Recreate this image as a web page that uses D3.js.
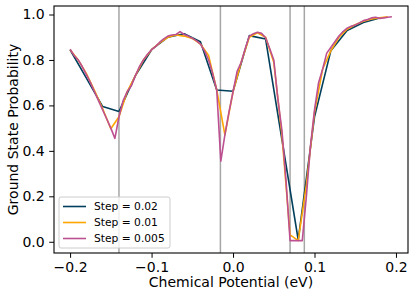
<!DOCTYPE html>
<html>
<head>
<meta charset="utf-8">
<script src="https://cdn.jsdelivr.net/npm/d3@7"></script>
<style>
  body { margin: 0; background: #fff; }
  svg { display: block; font-family: "DejaVu Sans", sans-serif; }
</style>
</head>
<body>
<svg id="chart" width="415" height="298"></svg>
<script>
// mu values for each step size
const x02 = [-0.2, -0.18, -0.16, -0.14, -0.12, -0.1, -0.08, -0.06, -0.04, -0.02,
    0.0, 0.02, 0.04, 0.06, 0.08, 0.1, 0.12, 0.14, 0.16, 0.18];
const y02 = [0.845, 0.72, 0.595, 0.573, 0.73, 0.845, 0.9, 0.915, 0.88, 0.668,
    0.662, 0.907, 0.892, 0.45, 0.008, 0.55, 0.84, 0.93, 0.965, 0.985];

const x01 = [-0.2, -0.19, -0.18, -0.17, -0.16, -0.15, -0.14, -0.13, -0.12, -0.11,
    -0.1, -0.09, -0.08, -0.07, -0.06, -0.05, -0.04, -0.03, -0.02, -0.01,
    0.0, 0.01, 0.02, 0.03, 0.04, 0.05, 0.06, 0.07, 0.08, 0.09,
    0.1, 0.11, 0.12, 0.13, 0.14, 0.15, 0.16, 0.17, 0.18, 0.19];
const y01 = [0.845, 0.8, 0.74, 0.665, 0.585, 0.497, 0.55, 0.66, 0.73, 0.8,
    0.845, 0.875, 0.9, 0.91, 0.905, 0.895, 0.87, 0.82, 0.668, 0.47,
    0.66, 0.79, 0.9, 0.92, 0.9, 0.79, 0.47, 0.03, 0.005, 0.25,
    0.57, 0.76, 0.84, 0.9, 0.935, 0.955, 0.97, 0.98, 0.985, 0.99];

const x005 = [-0.2, -0.195, -0.19, -0.185, -0.18, -0.175, -0.17, -0.165, -0.16, -0.155,
    -0.15, -0.145, -0.14, -0.135, -0.13, -0.125, -0.12, -0.115, -0.11, -0.105,
    -0.1, -0.095, -0.09, -0.085, -0.08, -0.075, -0.07, -0.065, -0.06, -0.055,
    -0.05, -0.045, -0.04, -0.035, -0.03, -0.025, -0.02, -0.015, -0.01, -0.005,
    0.0, 0.005, 0.01, 0.015, 0.02, 0.025, 0.03, 0.035, 0.04, 0.045,
    0.05, 0.055, 0.06, 0.065, 0.07, 0.075, 0.08, 0.085, 0.09, 0.095,
    0.1, 0.105, 0.11, 0.115, 0.12, 0.125, 0.13, 0.135, 0.14, 0.145,
    0.15, 0.155, 0.16, 0.165, 0.17, 0.175, 0.18, 0.185, 0.19, 0.195];
const y005 = [0.847, 0.82, 0.8, 0.77, 0.735, 0.7, 0.66, 0.62, 0.58, 0.54,
    0.5, 0.455, 0.55, 0.62, 0.66, 0.685, 0.73, 0.77, 0.8, 0.825,
    0.845, 0.86, 0.878, 0.893, 0.905, 0.91, 0.912, 0.925, 0.912, 0.905,
    0.895, 0.885, 0.87, 0.84, 0.8, 0.74, 0.668, 0.355, 0.47, 0.57,
    0.66, 0.75, 0.79, 0.85, 0.905, 0.915, 0.922, 0.917, 0.898, 0.85,
    0.8, 0.63, 0.49, 0.27, 0.005, 0.005, 0.005, 0.005, 0.2, 0.42,
    0.58, 0.7, 0.76, 0.83, 0.855, 0.88, 0.905, 0.925, 0.94, 0.948,
    0.954, 0.963, 0.973, 0.978, 0.985, 0.988, 0.983, 0.985, 0.988, 0.99];

const vlines = [-0.14, -0.0155, 0.07, 0.0875];
const labels = ["Step = 0.02", "Step = 0.01", "Step = 0.005"];
const colors = ["#003f5c", "#ffa600", "#bc5090"];
const xTicks = [-0.2, -0.1, 0.0, 0.1, 0.2];
const yTicks = [0.0, 0.2, 0.4, 0.6, 0.8, 1.0];

const svg = d3.select("#chart");
const margin = { top: 6, right: 7, bottom: 45, left: 54 };
const W = 415, H = 298;

const x = d3.scaleLinear()
    .domain([-0.21975, 0.21475])
    .range([margin.left, W - margin.right]);
const y = d3.scaleLinear()
    .domain([-0.0494, 1.0374])
    .range([H - margin.bottom, margin.top]);

const series = [
    { xs: x02, ys: y02 },
    { xs: x01, ys: y01 },
    { xs: x005, ys: y005 }
];

svg.append("g")
    .selectAll("line")
    .data(vlines)
    .join("line")
    .attr("x1", d => x(d))
    .attr("x2", d => x(d))
    .attr("y1", margin.top)
    .attr("y2", H - margin.bottom)
    .attr("stroke", "#808080")
    .attr("stroke-opacity", 0.7)
    .attr("stroke-width", 1.5);

const line = d3.line()
    .x(d => x(d[0]))
    .y(d => y(d[1]));

svg.append("g")
    .selectAll("path")
    .data(series)
    .join("path")
    .attr("d", s => line(s.xs.map((v, i) => [v, s.ys[i]])))
    .attr("fill", "none")
    .attr("stroke", (_, i) => colors[i])
    .attr("stroke-width", 1.6)
    .attr("stroke-linejoin", "round");

// axes
const fmt = d => d3.format(".1f")(d).replace("-", "\u2212");

const gx = svg.append("g")
    .attr("transform", `translate(0,${H - margin.bottom})`)
    .call(d3.axisBottom(x).tickValues(xTicks).tickFormat(fmt).tickSize(4.8).tickPadding(4.5));
const gy = svg.append("g")
    .attr("transform", `translate(${margin.left},0)`)
    .call(d3.axisLeft(y).tickValues(yTicks).tickFormat(fmt).tickSize(4.8).tickPadding(4.5));

[gx, gy].forEach(g => {
    g.select(".domain").remove();
    g.selectAll("line").attr("stroke", "#000").attr("stroke-width", 1);
    g.selectAll("text")
        .attr("font-family", "DejaVu Sans")
        .attr("font-size", 14)
        .attr("fill", "#000");
});

svg.append("rect")
    .attr("x", margin.left)
    .attr("y", margin.top)
    .attr("width", W - margin.left - margin.right)
    .attr("height", H - margin.top - margin.bottom)
    .attr("fill", "none")
    .attr("stroke", "#000")
    .attr("stroke-width", 1.1);

svg.append("text")
    .attr("x", (margin.left + W - margin.right) / 2)
    .attr("y", 287)
    .attr("text-anchor", "middle")
    .attr("font-size", 14)
    .text("Chemical Potential (eV)");

svg.append("text")
    .attr("transform", `translate(18,${(margin.top + H - margin.bottom) / 2}) rotate(-90)`)
    .attr("text-anchor", "middle")
    .attr("font-size", 14)
    .text("Ground State Probability");

// legend
const leg = svg.append("g").attr("transform", "translate(59,197)");
leg.append("rect")
    .attr("width", 111)
    .attr("height", 51)
    .attr("rx", 2)
    .attr("fill", "#fff")
    .attr("fill-opacity", 0.8)
    .attr("stroke", "#ccc")
    .attr("stroke-width", 1);

const item = leg.selectAll("g.item")
    .data(labels)
    .join("g")
    .attr("class", "item")
    .attr("transform", (_, i) => `translate(0,${9.5 + i * 16})`);
item.append("line")
    .attr("x1", 4).attr("x2", 27)
    .attr("stroke", (_, i) => colors[i])
    .attr("stroke-width", 1.6);
item.append("text")
    .attr("x", 35)
    .attr("dy", "0.35em")
    .attr("font-size", 10.7)
    .text(d => d);
</script>
</body>
</html>
